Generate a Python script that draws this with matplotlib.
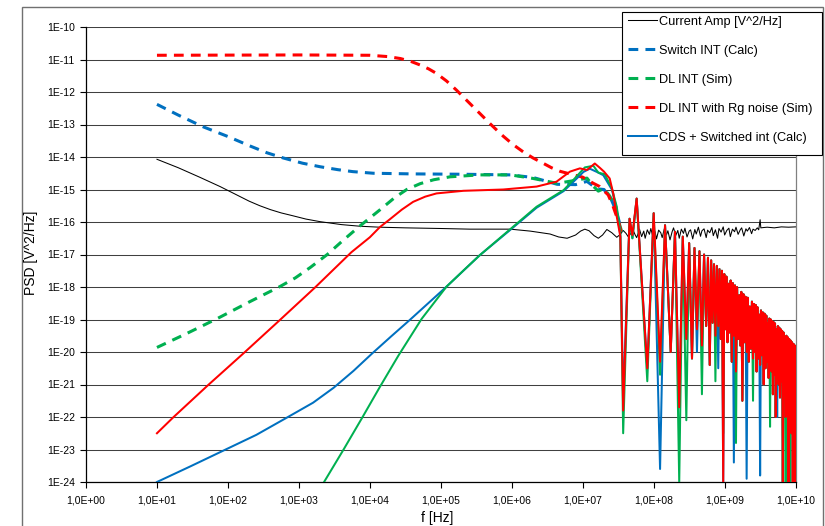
import numpy as np
import matplotlib
matplotlib.use("Agg")
import matplotlib.pyplot as plt
from matplotlib.lines import Line2D
from matplotlib.patches import Rectangle

plt.rcParams['font.family'] = ['Liberation Sans', 'DejaVu Sans']

# ---------------- data: (log10 f [Hz], log10 PSD [V^2/Hz]) ----------------
current_amp_head = [(1.0, -14.07), (1.3, -14.33), (1.6, -14.62), (1.89, -14.91), (2.1, -15.14),
                    (2.3, -15.36), (2.45, -15.50), (2.6, -15.62), (2.75, -15.72), (2.9, -15.80),
                    (3.1, -15.91), (3.3, -15.99), (3.6, -16.08), (3.86, -16.13), (4.14, -16.16),
                    (4.5, -16.18), (5.0, -16.20), (5.41, -16.22), (5.98, -16.22), (6.26, -16.28),
                    (6.54, -16.37), (6.66, -16.46), (6.78, -16.50), (6.90, -16.40), (6.97, -16.28),
                    (7.03, -16.22), (7.09, -16.27), (7.16, -16.42), (7.22, -16.50), (7.28, -16.40),
                    (7.34, -16.23), (7.41, -16.33), (7.48, -16.47), (7.53, -16.38), (7.57, -16.26),
                    (7.61, -16.35), (7.64, -16.45), (7.68, -16.35), (7.71, -16.25), (7.74, -16.40),
                    (7.76, -16.48), (7.79, -16.30)]
current_amp_noise_f = [7.80, 7.83, 7.86, 7.88, 7.91, 7.94, 7.96, 7.99, 8.02, 8.04,
                       8.07, 8.10, 8.12, 8.15, 8.18, 8.20, 8.23, 8.26, 8.28, 8.31,
                       8.34, 8.36, 8.39, 8.42, 8.44, 8.47, 8.50, 8.52, 8.55, 8.58,
                       8.60, 8.63, 8.66, 8.68, 8.71, 8.74, 8.76, 8.79, 8.82, 8.84,
                       8.87, 8.90, 8.92, 8.95, 8.98, 9.00, 9.03, 9.06, 9.08, 9.11,
                       9.14, 9.16, 9.19, 9.22, 9.24, 9.27, 9.30, 9.32, 9.35, 9.38,
                       9.40, 9.43, 9.46, 9.48, 9.50, 9.51, 9.55, 9.60, 9.70, 9.80,
                       9.90, 10.0]
current_amp_noise_psd = [-16.22, -16.45, -16.28, -16.50, -16.24, -16.38, -16.20, -16.47, -16.30, -16.52,
                         -16.25, -16.33, -16.48, -16.21, -16.40, -16.27, -16.55, -16.30, -16.18, -16.42,
                         -16.26, -16.50, -16.22, -16.35, -16.19, -16.46, -16.28, -16.24, -16.52, -16.23,
                         -16.37, -16.16, -16.44, -16.27, -16.21, -16.48, -16.25, -16.33, -16.17, -16.42,
                         -16.24, -16.50, -16.20, -16.31, -16.15, -16.40, -16.26, -16.19, -16.45, -16.22,
                         -16.30, -16.16, -16.38, -16.24, -16.18, -16.43, -16.21, -16.28, -16.17, -16.36,
                         -16.22, -16.26, -16.18, -16.24, -15.93, -16.18, -16.17, -16.16, -16.18, -16.15,
                         -16.16, -16.15]

switch_int_calc = [(1.0, -12.38), (1.3, -12.71), (1.65, -13.07), (2.0, -13.37), (2.31, -13.66),
                   (2.55, -13.87), (2.78, -14.03), (3.05, -14.19), (3.30, -14.30), (3.55, -14.39),
                   (3.76, -14.45), (4.05, -14.50), (4.6, -14.52), (5.27, -14.53), (5.98, -14.55),
                   (6.30, -14.63), (6.64, -14.84), (6.90, -14.85), (7.06, -14.75), (7.20, -14.98),
                   (7.30, -15.00), (7.40, -15.30), (7.48, -15.70), (7.55, -16.30)]

dl_int_sim = [(1.0, -19.86), (1.42, -19.43), (1.86, -18.96), (2.31, -18.45), (2.73, -17.99),
              (2.95, -17.72), (3.16, -17.40), (3.4, -17.00), (3.62, -16.57), (3.85, -16.14),
              (4.14, -15.63), (4.35, -15.25), (4.52, -15.00), (4.71, -14.82), (4.9, -14.70),
              (5.13, -14.61), (5.55, -14.55), (5.98, -14.55), (6.30, -14.66), (6.64, -14.81),
              (6.92, -14.71), (7.06, -14.65), (7.15, -14.90), (7.22, -15.05), (7.30, -14.97),
              (7.38, -15.20), (7.45, -15.48), (7.50, -15.94), (7.55, -16.30)]

dl_int_rg_sim = [(1.0, -10.87), (3.0, -10.86), (4.0, -10.87), (4.25, -10.91), (4.43, -10.97),
                 (4.58, -11.06), (4.71, -11.17), (4.83, -11.29), (4.94, -11.43), (5.08, -11.66),
                 (5.22, -11.94), (5.38, -12.29), (5.55, -12.66), (5.72, -13.03), (5.88, -13.36),
                 (6.02, -13.62), (6.16, -13.84), (6.30, -14.03), (6.44, -14.19), (6.56, -14.33),
                 (6.68, -14.44), (6.87, -14.55), (7.0, -14.62), (7.15, -14.81), (7.24, -14.91),
                 (7.36, -15.17), (7.43, -15.53), (7.51, -16.03), (7.55, -16.40)]

cds_switched_head = [(1.0, -24.0), (1.47, -23.52), (1.98, -22.99), (2.4, -22.55), (2.83, -22.02),
                     (3.2, -21.56), (3.49, -21.10), (3.77, -20.58), (4.03, -20.05), (4.3, -19.52),
                     (4.57, -19.00), (5.08, -17.99), (5.55, -17.02), (5.81, -16.55), (5.98, -16.24),
                     (6.35, -15.56), (6.73, -15.05), (6.87, -14.76), (7.01, -14.46), (7.10, -14.36),
                     (7.20, -14.46), (7.29, -14.56), (7.41, -15.00), (7.48, -15.60), (7.53, -16.40)]

dl_int_solid_head = [(3.30, -24.2), (3.63, -23.00), (3.89, -22.03), (4.14, -21.08), (4.40, -20.12),
                     (4.73, -18.98), (5.08, -17.99), (5.34, -17.45), (5.55, -17.02), (5.98, -16.22),
                     (6.35, -15.53), (6.73, -15.02), (6.87, -14.70), (7.03, -14.32), (7.15, -14.27),
                     (7.22, -14.48), (7.31, -14.53), (7.41, -14.96), (7.48, -15.53), (7.53, -16.35)]

dl_int_rg_solid_head = [(1.0, -22.50), (1.23, -22.01), (1.72, -21.02), (2.23, -20.02), (2.73, -19.02),
                        (3.23, -18.01), (3.74, -16.93), (4.0, -16.47), (4.14, -16.16), (4.28, -15.92),
                        (4.45, -15.62), (4.61, -15.38), (4.78, -15.22), (4.94, -15.12), (5.32, -15.04),
                        (5.88, -15.00), (6.35, -14.91), (6.63, -14.76), (6.82, -14.45), (6.96, -14.35),
                        (7.06, -14.40), (7.17, -14.20), (7.24, -14.33), (7.30, -14.45), (7.38, -14.66),
                        (7.43, -15.12), (7.48, -15.84), (7.53, -16.45)]

# high-frequency ringing: shared extrema positions, per-series dip depths
tail_trough_f = [7.57, 7.70, 7.91, 8.09, 8.24, 8.36, 8.46, 8.54, 8.61, 8.68,
                 8.74, 8.79, 8.83, 8.87, 8.91, 8.945, 8.98, 9.01, 9.04, 9.07,
                 9.10, 9.13, 9.16, 9.19, 9.22, 9.25, 9.28, 9.31, 9.34, 9.37,
                 9.40, 9.425, 9.45, 9.475, 9.50, 9.525, 9.55, 9.575, 9.60, 9.62,
                 9.64, 9.66, 9.68, 9.70, 9.72, 9.74, 9.76, 9.78, 9.80, 9.82,
                 9.84, 9.86, 9.88, 9.90, 9.92, 9.94, 9.96, 9.98, 9.995]
tail_peak_f = [7.66, 7.76, 8.00, 8.16, 8.30, 8.41, 8.50, 8.575, 8.645, 8.71,
               8.765, 8.81, 8.85, 8.89, 8.927, 8.962, 8.995, 9.025, 9.055, 9.085,
               9.115, 9.145, 9.175, 9.205, 9.235, 9.265, 9.295, 9.325, 9.355, 9.385,
               9.412, 9.437, 9.462, 9.487, 9.512, 9.537, 9.562, 9.587, 9.61, 9.63,
               9.65, 9.67, 9.69, 9.71, 9.73, 9.75, 9.77, 9.79, 9.81, 9.83,
               9.85, 9.87, 9.89, 9.91, 9.93, 9.95, 9.97, 9.988]
tail_peak_psd = [-15.90, -15.28, -15.73, -16.10, -16.30, -16.45, -16.65, -16.80, -16.90, -17.00,
                 -17.10, -17.18, -17.30, -17.35, -17.45, -17.50, -17.60, -17.68, -17.90, -17.80,
                 -17.88, -17.95, -18.00, -18.25, -18.15, -18.22, -18.30, -18.33, -18.60, -18.45,
                 -18.52, -18.55, -18.62, -18.85, -18.72, -18.78, -18.82, -18.88, -19.10, -18.97,
                 -19.00, -19.05, -19.08, -19.12, -19.30, -19.20, -19.25, -19.30, -19.35, -19.40,
                 -19.60, -19.50, -19.55, -19.60, -19.65, -19.70, -19.75, -19.80]
red_troughs = [-21.8, -16.4, -20.5, -20.3, -20.0, -21.7, -19.6, -20.2, -19.3, -19.8,
               -19.2, -20.4, -19.1, -19.5, -19.2, -19.6, -24.0, -19.3, -19.7, -19.4,
               -20.3, -19.5, -20.6, -19.6, -19.8, -21.5, -19.7, -20.0, -20.3, -19.9,
               -20.2, -20.0, -20.6, -20.2, -20.4, -20.1, -21.0, -20.5, -20.3, -20.8,
               -20.4, -20.6, -21.3, -20.7, -22.0, -20.8, -21.0, -21.4, -20.9, -24.0,
               -21.3, -22.0, -21.2, -24.0, -21.5, -22.5, -24.0, -22.0, -24.0]
green_dips = {0: -22.5, 1: -16.5, 2: -20.9, 3: -20.7, 5: -24.0, 6: -22.1, 9: -21.3,
              13: -20.9, 16: -22.5, 22: -22.8, 30: -21.5, 40: -22.3, 51: -24.0, 54: -24.0}
blue_dips = {0: -21.5, 1: -16.5, 3: -23.6, 8: -20.0, 14: -20.5, 21: -23.4, 27: -23.9,
             34: -23.8, 45: -22.0, 52: -24.0}
tail_end = {'red': -20.0, 'green': -20.5, 'blue': -21.2}

legend_labels = ["Current Amp [V^2/Hz]", "Switch INT (Calc)", "DL INT (Sim)",
                 "DL INT with Rg noise (Sim)", "CDS + Switched int (Calc)"]
xtick_exp = list(range(0, 11))
xtick_labels = ["1,0E+00", "1,0E+01", "1,0E+02", "1,0E+03", "1,0E+04", "1,0E+05",
                "1,0E+06", "1,0E+07", "1,0E+08", "1,0E+09", "1,0E+10"]
ytick_exp = list(range(-24, -9))
ytick_labels = ["1E-24", "1E-23", "1E-22", "1E-21", "1E-20", "1E-19", "1E-18", "1E-17",
                "1E-16", "1E-15", "1E-14", "1E-13", "1E-12", "1E-11", "1E-10"]

# ---------------- helpers ----------------
def with_tail(head, dips, end):
    pts = list(head)
    for i, f in enumerate(tail_trough_f):
        pts.append((f, dips.get(i, red_troughs[i])))
        if i < len(tail_peak_f):
            pts.append((tail_peak_f[i], tail_peak_psd[i]))
    pts.append((10.0, end))
    return pts

def xy(pts):
    a = np.array(pts, dtype=float)
    return 10.0 ** a[:, 0], 10.0 ** a[:, 1]

BLUE, GREEN, RED, BLACK = '#0070C0', '#00B050', '#FF0000', '#000000'
W, H = 825, 526
def fx(px): return px / W
def fy(py): return 1 - py / H

fig = plt.figure(figsize=(8.25, 5.26), dpi=100)
fig.patch.set_facecolor('white')
ax = fig.add_axes([fx(86), fy(482), (795.6 - 86) / W, (482 - 27) / H])

ax.set_xscale('log')
ax.set_yscale('log')
ax.set_xlim(1, 1e10)
ax.set_ylim(1e-24, 1e-10)

dash_lw = 2.2
sol_lw = 1.45
dash_pat = (3.2, 2.35)

x, y = xy(current_amp_head + list(zip(current_amp_noise_f, current_amp_noise_psd)))
ax.plot(x, y, color=BLACK, lw=0.75, zorder=2)
x, y = xy(switch_int_calc)
ax.plot(x, y, color=BLUE, lw=dash_lw, dashes=dash_pat, zorder=3)
x, y = xy(dl_int_sim)
ax.plot(x, y, color=GREEN, lw=dash_lw, dashes=dash_pat, zorder=3)
x, y = xy(dl_int_rg_sim)
ax.plot(x, y, color=RED, lw=dash_lw, dashes=dash_pat, zorder=3)
x, y = xy(with_tail(cds_switched_head, blue_dips, tail_end['blue']))
ax.plot(x, y, color=BLUE, lw=sol_lw, zorder=4)
x, y = xy(with_tail(dl_int_solid_head, green_dips, tail_end['green']))
ax.plot(x, y, color=GREEN, lw=sol_lw, zorder=4)
x, y = xy(with_tail(dl_int_rg_solid_head, {}, tail_end['red']))
ax.plot(x, y, color=RED, lw=sol_lw, zorder=4)

# ticks & grid
ax.set_xticks([10.0 ** e for e in xtick_exp])
ax.set_xticklabels(xtick_labels)
ax.set_yticks([10.0 ** e for e in ytick_exp])
ax.set_yticklabels(ytick_labels)
ax.xaxis.set_minor_locator(matplotlib.ticker.NullLocator())
ax.yaxis.set_minor_locator(matplotlib.ticker.NullLocator())
ax.tick_params(axis='both', which='major', direction='out', length=4, width=0.8,
               labelsize=7.5, pad=4, colors='black')
ax.tick_params(axis='x', pad=6)
ax.yaxis.grid(True, color='#404040', lw=0.75)
ax.xaxis.grid(False)
ax.set_axisbelow(True)
for s in ['left', 'bottom']:
    ax.spines[s].set_color('black')
    ax.spines[s].set_linewidth(0.9)
ax.spines['top'].set_visible(False)
ax.spines['right'].set_color('#808080')
ax.spines['right'].set_linewidth(0.9)

# axis titles
fig.text(fx(31), fy(253), "PSD [V^2/Hz]", rotation=90, ha='center', va='center', fontsize=10)
fig.text(fx(437), fy(518), "f [Hz]", ha='center', va='center', fontsize=10)

# outer chart frame
fig.add_artist(Rectangle((fx(22), fy(560)), (822.5 - 22) / W, (560 - 7) / H,
                         transform=fig.transFigure, fill=False, edgecolor='#707070', lw=1.0))

# legend (manual)
fig.add_artist(Rectangle((fx(622), fy(155)), (822 - 622) / W, (155 - 11.7) / H,
                         transform=fig.transFigure, facecolor='white', edgecolor='black',
                         lw=0.8, zorder=10))
leg_styles = [(BLACK, 0.75, None), (BLUE, dash_lw, dash_pat), (GREEN, dash_lw, dash_pat),
              (RED, dash_lw, dash_pat), (BLUE, sol_lw, None)]
rows = [20, 49, 78, 107, 136]
for (c, lw, d), lab, ry in zip(leg_styles, legend_labels, rows):
    ln = Line2D([fx(628), fx(657)], [fy(ry), fy(ry)], transform=fig.transFigure,
                color=c, lw=lw, zorder=11)
    if d is not None:
        ln.set_dashes(d)
    fig.add_artist(ln)
    fig.text(fx(659), fy(ry + 4.6), lab, ha='left', va='baseline', fontsize=9.2, zorder=11)

fig.savefig('out.png', dpi=100)
